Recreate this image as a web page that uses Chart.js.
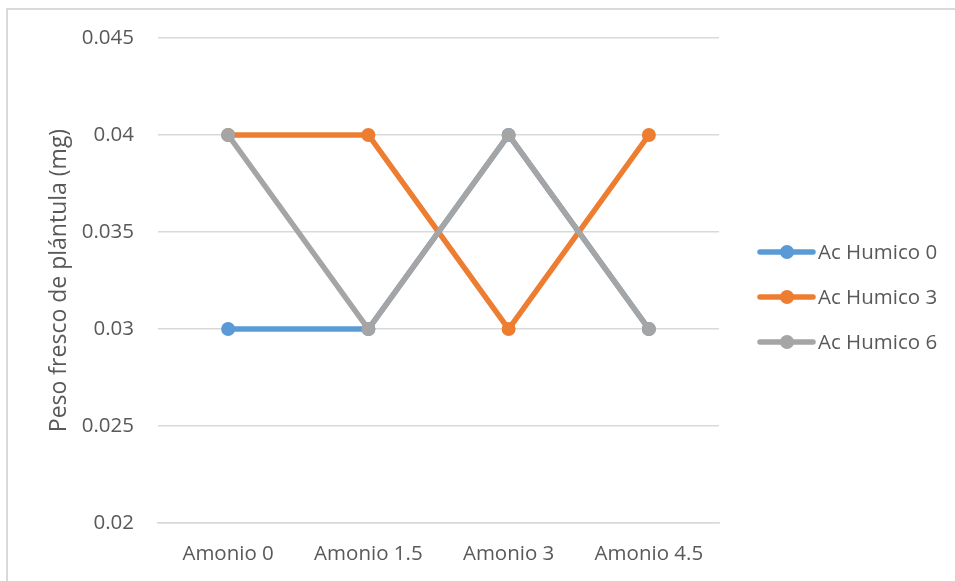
<!DOCTYPE html>
<html>
<head>
<meta charset="utf-8">
<script src="https://cdn.jsdelivr.net/npm/chart.js@4/dist/chart.umd.min.js"></script>
<style>
  html, body { margin: 0; padding: 0; width: 955px; height: 581px; overflow: hidden; background: #fff; }
  #frame { position: absolute; left: 6px; top: 8px; width: 1100px; height: 700px; border: 2px solid #d9d9d9; box-sizing: border-box; }
  #wrap { position: absolute; left: 0; top: 0; width: 955px; height: 581px; }
</style>
</head>
<body>
<div id="frame"></div>
<div id="wrap"><canvas id="c" width="955" height="581"></canvas></div>
<script>
// Peso fresco de plántula por nivel de amonio y ácido húmico
const categories = ['Amonio 0', 'Amonio 1.5', 'Amonio 3', 'Amonio 4.5'];
const seriesNames = ['Ac Humico 0', 'Ac Humico 3', 'Ac Humico 6'];
const acHumico0 = [0.03, 0.03, 0.04, 0.03];
const acHumico3 = [0.04, 0.04, 0.03, 0.04];
const acHumico6 = [0.04, 0.03, 0.04, 0.03];
const yTicks = [0.02, 0.025, 0.03, 0.035, 0.04, 0.045];
const seriesColors = ['#5B9BD5', '#ED7D31', '#A5A5A5'];

const FONT = "'Open Sans', 'Noto Sans', sans-serif";
const TEXT = '#595959';
const GRID = '#d9d9d9';

function makeSet(i, data) {
  return {
    label: seriesNames[i],
    data: data,
    borderColor: seriesColors[i],
    backgroundColor: seriesColors[i],
    pointBackgroundColor: seriesColors[i],
    pointBorderColor: seriesColors[i],
    borderWidth: 5.5,
    pointRadius: 7,
    pointBorderWidth: 0,
    pointHoverRadius: 7,
    tension: 0,
    fill: false,
    order: 3 - i
  };
}

// Legend drawn at the right, one row per series
const sideLegend = {
  id: 'sideLegend',
  afterDraw(chart) {
    const ctx = chart.ctx;
    const rows = [252, 297, 342];
    ctx.save();
    chart.data.datasets.forEach((ds, i) => {
      const y = rows[i];
      ctx.strokeStyle = ds.borderColor;
      ctx.lineWidth = 5.5;
      ctx.lineCap = 'round';
      ctx.beginPath();
      ctx.moveTo(760, y);
      ctx.lineTo(813, y);
      ctx.stroke();
      ctx.fillStyle = ds.borderColor;
      ctx.beginPath();
      ctx.arc(787, y, 7, 0, Math.PI * 2);
      ctx.fill();
      ctx.fillStyle = TEXT;
      ctx.font = '20.5px ' + FONT;
      ctx.textAlign = 'left';
      ctx.textBaseline = 'middle';
      ctx.fillText(ds.label, 818, y + 1);
    });
    ctx.restore();
  }
};

new Chart(document.getElementById('c'), {
  type: 'line',
  data: {
    labels: categories,
    datasets: [makeSet(0, acHumico0), makeSet(1, acHumico3), makeSet(2, acHumico6)]
  },
  plugins: [sideLegend],
  options: {
    responsive: false,
    animation: false,
    events: [],
    layout: { padding: { left: 0, top: 38, right: 236, bottom: 0 } },
    plugins: { legend: { display: false }, tooltip: { enabled: false } },
    scales: {
      x: {
        offset: true,
        grid: { display: false, drawTicks: false },
        border: { display: true, color: GRID, width: 1.5 },
        ticks: { color: TEXT, font: { family: FONT, size: 20.5 }, padding: 19, maxRotation: 0, autoSkip: false },
        afterFit(scale) { scale.height = 58; }
      },
      y: {
        min: yTicks[0],
        max: yTicks[yTicks.length - 1],
        afterBuildTicks(scale) { scale.ticks = yTicks.map(v => ({ value: v })); },
        grid: { color: GRID, lineWidth: 1.5, drawTicks: false },
        border: { display: false },
        ticks: {
          color: TEXT,
          font: { family: FONT, size: 20.5 },
          padding: 24,
          callback: v => String(parseFloat(Number(v).toFixed(4)))
        },
        title: {
          display: true,
          text: 'Peso fresco de plántula (mg)',
          color: TEXT,
          font: { family: FONT, size: 23 },
          padding: { top: 46, bottom: 0 }
        },
        afterFit(scale) { scale.width = 158; }
      }
    }
  }
});
</script>
</body>
</html>
